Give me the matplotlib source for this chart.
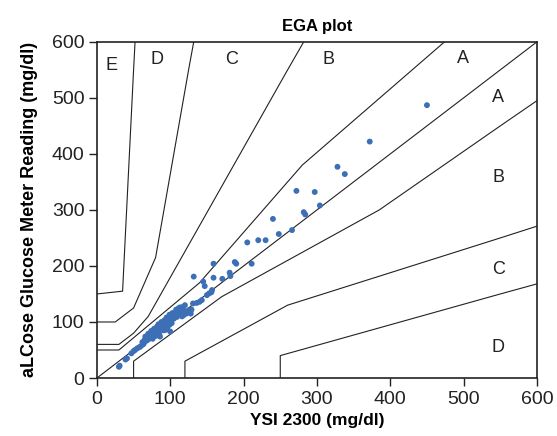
import matplotlib.pyplot as plt

plt.rcParams['font.family'] = ['Liberation Sans', 'DejaVu Sans']

# reference (YSI 2300) vs meter readings, mg/dl
ysi = [30, 31, 39, 41, 47, 50, 52, 55, 58, 60, 63,
       62, 64, 65, 66, 67, 68, 69, 70, 71, 72, 73, 74, 75, 76, 77, 78, 79, 80,
       80, 81, 82, 83, 84, 85, 86, 86, 87, 88, 89, 90, 90, 91, 92, 93, 94, 95,
       96, 97, 98, 99, 100, 100, 101, 102, 104, 105, 106, 107, 109, 110, 111,
       112, 114, 115, 116, 117, 118, 118, 120, 120, 122, 125, 128, 129, 131,
       136, 140, 143, 132, 145, 147, 150, 153, 156, 157, 159, 159, 171, 181,
       182, 188, 190, 205, 211, 220, 230, 248, 240, 266, 272, 282, 284, 297,
       304, 328, 338, 372, 450,
       66, 70, 74, 78, 82, 84, 88, 92, 95, 99, 103, 108, 113, 76, 80, 85, 94]
meter = [20, 22, 33, 35, 44, 48, 50, 53, 55, 57, 60,
         64, 62, 68, 66, 70, 67, 72, 69, 74, 71, 76, 73, 78, 74, 80, 77, 82, 78,
         85, 80, 84, 88, 82, 90, 86, 74, 92, 88, 95, 91, 98, 85, 94, 100, 96, 104,
         90, 100, 107, 95, 83, 110, 103, 98, 112, 106, 116, 110, 109, 120, 124,
         114, 118, 125, 110, 127, 112, 121, 130, 116, 115, 121, 115, 122, 133,
         134, 136, 139, 181, 172, 164, 148, 151, 153, 157, 179, 204, 177, 188,
         182, 207, 204, 242, 204, 246, 246, 257, 284, 264, 334, 296, 292, 332,
         308, 377, 364, 422, 487,
         74, 79, 84, 88, 92, 96, 100, 103, 108, 113, 116, 122, 126, 70, 75, 78, 86]

# Parkes consensus error grid (type 1) zone boundaries
a_upper = ([0, 30, 140, 280, 474], [50, 50, 170, 380, 600])
a_lower = ([50, 50, 170, 385, 550, 600], [0, 30, 145, 300, 450, 495])
b_upper = ([0, 30, 50, 70, 260, 282], [60, 60, 80, 110, 550, 600])
b_lower = ([120, 120, 260, 550, 600], [0, 30, 130, 250, 271])
c_upper = ([0, 25, 50, 80, 125, 132], [100, 100, 125, 215, 550, 600])
c_lower = ([250, 250, 550, 600], [0, 40, 150, 168])
d_upper = ([0, 35, 50, 52], [150, 155, 550, 600])
identity = ([0, 600], [0, 600])

zone_labels = ['E', 'D', 'C', 'B', 'A', 'A', 'B', 'C', 'D']
zone_x = [20, 82, 184, 316, 499, 547, 547, 547, 547]
zone_y = [557, 568, 568, 568, 571, 500, 357, 193, 55]

fig = plt.figure(figsize=(5.57, 4.36), dpi=100)
ax = fig.add_axes([0.174, 0.133, 0.79, 0.771])

for xs, ys in [a_upper, a_lower, b_upper, b_lower, c_upper, c_lower, d_upper, identity]:
    ax.plot(xs, ys, color='#222222', linewidth=0.8, zorder=1)

ax.scatter(ysi, meter, s=18, color='#3d6fb6', edgecolors='none', zorder=2)

for lab, x, y in zip(zone_labels, zone_x, zone_y):
    ax.text(x, y, lab, fontsize=13, ha='center', va='center', color='#222222')

ax.set_xlim(0, 600)
ax.set_ylim(0, 600)
ax.set_xticks(range(0, 601, 100))
ax.set_yticks(range(0, 601, 100))
ax.tick_params(labelsize=14, length=6, width=1, direction='out', colors='#222222', pad=3)
for sp in ax.spines.values():
    sp.set_linewidth(1.2)
    sp.set_color('#222222')

ax.set_xlabel('YSI 2300 (mg/dl)', fontsize=12.5, fontweight='bold', labelpad=4)
ax.set_ylabel('aLCose Glucose Meter Reading (mg/dl)', fontsize=13, fontweight='bold', labelpad=10)
ax.set_title('EGA plot', fontsize=12, fontweight='bold', pad=8)

fig.savefig('out.png', dpi=100)
